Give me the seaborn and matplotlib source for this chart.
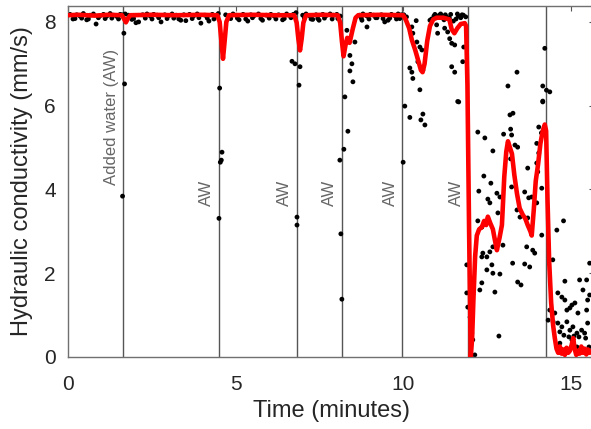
import matplotlib
matplotlib.use("Agg")
import matplotlib.pyplot as plt
import seaborn as sns
import numpy as np

# ---------------- data ----------------
# measured points (black dots)
dots_t = [
    # steady band 0-10 min
    0.05, 0.14, 0.25, 0.35, 0.45, 0.55, 0.65, 0.75, 0.83, 0.95, 1.05, 1.15, 1.25, 1.35, 1.45,
    1.55, 1.62, 1.70, 1.80, 1.90, 2.02, 2.10, 2.22, 2.35, 2.45, 2.55, 2.65, 2.77, 2.88, 3.00,
    3.10, 3.22, 3.36, 3.45, 3.51, 3.62, 3.75, 3.85, 3.96, 4.08, 4.20, 4.30, 4.40, 4.48, 4.70,
    4.80, 4.92, 5.02, 5.10, 5.22, 5.36, 5.45, 5.55, 5.68, 5.80, 5.92, 6.05, 6.15, 6.28, 6.40,
    6.52, 6.62, 6.72, 6.80, 7.00, 7.10, 7.20, 7.30, 7.40, 7.49, 7.60, 7.70, 7.82, 7.92, 8.02,
    8.12, 8.70, 8.80, 8.92, 9.02, 9.12, 9.22, 9.35, 9.45, 9.55, 9.65, 9.75, 9.85, 9.95,
    # fringe of the steady band
    0.20, 0.40, 0.60, 0.90, 1.10, 1.30, 1.50, 1.95, 2.30, 2.50, 2.70, 2.95, 3.15, 3.30, 3.70,
    3.90, 4.15, 4.35, 4.85, 5.05, 5.30, 5.50, 5.75, 6.00, 6.20, 6.45, 6.65, 7.05, 7.25, 7.45,
    7.65, 7.88, 8.05, 8.75, 8.98, 9.18, 9.40, 9.60, 9.80, 9.90,
    # water additions 1-4
    1.66, 1.68, 1.62,
    4.52, 4.59, 4.54, 4.57, 4.50,
    6.68, 6.77, 6.92, 6.89, 6.83, 6.83,
    8.35, 8.23, 8.11, 8.14, 8.17, 8.26, 8.41, 8.50, 8.47, 8.41, 8.32, 8.56, 8.92, 8.77,
    # 10-12 min
    10.00, 10.05, 10.20, 10.50, 10.59, 10.53, 10.65, 10.20, 10.26, 10.29, 10.44, 10.59, 10.41,
    10.50, 10.56, 10.29, 10.26, 10.80, 11.00, 11.03, 11.24, 11.33, 11.39, 11.45, 11.54, 11.45,
    11.54, 11.63, 11.78, 11.81, 11.66, 10.39,
    10.02, 10.10, 10.85, 10.92, 11.00, 11.08, 11.15, 11.22, 11.30, 11.38, 11.50, 11.58, 11.65,
    11.72, 11.80, 11.87, 10.95, 11.12, 11.26, 11.42, 11.62, 11.76,
    # 12-14.3 min
    14.17, 13.19, 13.28, 12.23, 12.44, 13.00, 13.21, 13.24, 12.68, 13.34, 13.42, 14.05, 14.13,
    13.99, 14.05, 13.21, 13.72, 13.99, 14.02, 12.41, 14.14, 13.24, 13.63, 13.75, 12.26, 12.62,
    12.80, 12.53, 12.59, 12.83, 12.23, 13.84, 13.99, 13.40, 13.49, 13.72, 13.78, 14.14, 12.98,
    12.68, 13.69, 13.87, 13.93, 12.38, 12.50, 12.59, 13.27, 13.63, 13.78, 12.50, 12.68, 12.89,
    13.42, 13.52, 12.35, 12.29, 12.74, 11.90, 11.90, 11.93, 12.00, 12.05, 12.08, 12.14, 12.86,
    13.40, 13.13, 14.17, 14.28, 14.38, 14.17, 14.23, 12.89, 12.35, 12.35, 12.65,
    # after 14.3 min
    14.59, 14.79, 14.47, 14.83, 15.27, 15.48, 15.57, 14.38, 14.53, 14.62, 14.74, 14.83, 14.89,
    15.04, 15.13, 15.22, 15.37, 15.48, 15.51, 14.33, 14.48, 14.62, 14.74, 14.89, 14.98, 15.07,
    15.19, 15.33, 15.42, 15.51, 15.04, 15.19, 14.98, 15.57, 14.68, 14.80, 14.95, 15.10, 15.25,
    15.45, 14.68, 15.55,
]
dots_k = [
    8.18, 8.07, 8.17, 8.14, 8.20, 8.05, 8.16, 8.19, 7.95, 8.15, 8.18, 8.14, 8.20, 8.16, 8.13,
    8.18, 8.17, 8.19, 8.16, 8.06, 7.98, 8.00, 8.17, 8.19, 8.14, 8.18, 8.16, 8.00, 8.17, 8.15,
    8.19, 8.16, 8.04, 8.17, 8.03, 8.18, 8.15, 8.19, 7.97, 8.16, 8.02, 8.18, 8.15, 8.20, 8.17,
    8.14, 8.19, 8.16, 8.05, 8.18, 8.02, 8.17, 8.15, 8.19, 8.04, 8.16, 8.18, 8.14, 8.17, 8.05,
    8.19, 8.15, 8.18, 8.22, 8.16, 8.19, 8.15, 8.06, 8.17, 8.04, 8.18, 8.15, 8.19, 8.16, 8.18,
    8.14, 8.16, 8.19, 8.14, 8.18, 8.16, 8.10, 8.17, 8.00, 8.04, 8.18, 8.15, 8.19, 8.17,
    8.08, 8.09, 8.07, 8.10, 8.08, 8.09, 8.07, 8.08, 8.09, 8.07, 8.10, 8.08, 8.09, 8.07, 8.08,
    8.10, 8.09, 8.07, 8.08, 8.09, 8.07, 8.10, 8.08, 8.09, 8.07, 8.08, 8.10, 8.09, 8.07, 8.08,
    8.09, 8.07, 8.08, 8.09, 8.07, 8.10, 8.08, 8.09, 8.07, 8.08,
    7.73, 6.52, 3.84,
    6.42, 4.89, 4.65, 4.70, 3.31,
    7.06, 7.00, 6.93, 6.49, 3.34, 3.15,
    5.39, 4.96, 4.70, 2.94, 1.38, 6.21, 6.83, 6.57, 7.00, 7.20, 7.80, 7.52, 7.88, 8.04,
    4.65, 5.99, 5.72, 6.38, 5.80, 5.66, 5.54, 6.90, 6.80, 6.65, 7.05, 6.85, 7.52,
    7.40, 7.33, 7.73, 7.88, 8.04, 7.93, 7.73, 7.85, 7.76, 7.60, 7.49, 7.45, 6.93,
    6.80, 6.10, 7.05, 7.40, 6.09, 8.03,
    8.17, 8.12, 8.07, 8.14, 8.10, 8.16, 8.12, 8.05, 8.12, 8.09, 8.02, 8.07, 8.14,
    8.10, 8.16, 8.12, 8.18, 8.19, 8.17, 8.18, 8.19, 8.17,
    6.09, 5.78, 5.82, 5.37, 5.23, 5.32, 5.44, 5.30, 4.92, 5.06, 5.01, 5.49, 5.35,
    5.10, 4.87, 4.73, 4.51, 4.63, 4.42, 4.32, 4.03, 4.06, 3.94, 3.80, 3.96, 4.15,
    3.91, 3.77, 3.68, 3.44, 3.25, 3.82, 3.68, 3.51, 3.34, 3.32, 3.10, 2.91, 2.67,
    2.63, 2.63, 2.55, 2.48, 2.48, 2.39, 2.51, 2.24, 2.22, 2.15, 2.08, 2.00, 1.98,
    1.79, 1.72, 1.77, 1.60, 1.55, 2.20, 1.53, 1.19, 0.95, 0.57, 0.41, 0.05, 0.50,
    6.80, 6.47, 6.47, 6.37, 6.33, 6.11, 7.37, 3.82, 3.10, 2.39, 2.20,
    3.03, 3.25, 2.32, 1.81, 1.84, 1.84, 2.24, 1.12, 1.05, 1.53, 1.43, 1.36, 1.12,
    1.24, 1.29, 1.05, 1.60, 1.12, 1.36, 0.88, 0.84, 0.81, 0.72, 0.84, 0.64, 0.72,
    0.57, 0.64, 0.57, 0.81, 0.41, 0.24, 1.17, 1.48, 0.60, 0.52, 0.48, 0.50, 0.48,
    0.45, 0.33, 0.24,
]

# smoothed conductivity (red curve)
smooth_t = [
    0.00, 0.30, 0.80, 1.20, 1.60, 1.66, 1.72, 1.78, 1.85, 2.50, 3.20, 4.00, 4.45, 4.52, 4.57,
    4.62, 4.67, 4.72, 4.80, 5.50, 6.20, 6.75, 6.82, 6.87, 6.92, 6.97, 7.02, 7.10, 7.60, 8.05,
    8.12, 8.17, 8.22, 8.28, 8.33, 8.40, 8.50, 8.58, 8.66, 9.30, 10.00, 10.08, 10.18, 10.26,
    10.36, 10.46, 10.53, 10.58, 10.64, 10.72, 10.80, 10.90, 11.00, 11.20, 11.38, 11.45, 11.53,
    11.62, 11.72, 11.84, 11.88, 11.92, 11.97, 12.02, 12.06, 12.10, 12.15, 12.20, 12.27, 12.35,
    12.42, 12.48, 12.53, 12.60, 12.68, 12.75, 12.80, 12.88, 12.95, 13.02, 13.08, 13.13, 13.19,
    13.25, 13.32, 13.40, 13.48, 13.57, 13.65, 13.72, 13.80, 13.84, 13.90, 13.96, 14.03, 14.10,
    14.17, 14.23, 14.27, 14.31, 14.36, 14.42, 14.48, 14.53, 14.58, 14.63, 14.68, 14.73, 14.78,
    14.83, 14.88, 14.93, 14.98, 15.03, 15.08, 15.12, 15.17, 15.22, 15.27, 15.32, 15.37, 15.42,
    15.47, 15.52, 15.57, 15.65,
]
smooth_k = [
    8.16, 8.17, 8.15, 8.17, 8.16, 8.08, 7.99, 8.08, 8.16, 8.17, 8.16, 8.17, 8.16, 8.00, 7.55,
    7.12, 7.55, 8.00, 8.16, 8.17, 8.16, 8.16, 7.98, 7.60, 7.32, 7.60, 7.98, 8.16, 8.17, 8.16,
    7.98, 7.55, 7.18, 7.45, 7.62, 7.50, 7.85, 8.10, 8.16, 8.17, 8.16, 8.05, 7.85, 7.57,
    7.33, 7.05, 6.85, 6.80, 7.00, 7.55, 7.90, 8.06, 8.10, 8.10, 8.06, 7.82, 7.73,
    7.85, 7.95, 7.97, 7.90, 6.50, 3.00, 0.00, 0.45, 1.40, 2.40, 2.90, 3.05, 3.10,
    3.25, 3.15, 3.35, 3.20, 3.05, 2.75, 2.55, 2.85, 3.15, 4.30, 4.90, 5.15, 5.00,
    4.85, 4.35, 3.90, 3.55, 3.40, 3.30, 3.15, 3.00, 2.90, 3.50, 4.20, 4.60, 5.10,
    5.40, 5.55, 5.40, 3.80, 2.30, 1.30, 0.75, 0.45, 0.20, 0.10, 0.25, 0.08, 0.18,
    0.05, 0.22, 0.10, 0.15, 0.28, 0.45, 0.20, 0.05, 0.15, 0.08, 0.25, 0.10, 0.20,
    0.06, 0.18, 0.10, 0.15,
]

# water additions
aw_times = [1.64, 4.50, 6.83, 8.17, 9.98, 11.94, 14.28]
aw_labels = ["Added water (AW)", "AW", "AW", "AW", "AW", "AW", ""]
aw_label_y = [4.1, 3.6, 3.6, 3.6, 3.6, 3.6, 3.6]

x_ticks = [0, 5, 10, 15]
y_ticks = [0, 2, 4, 6, 8]

# ---------------- plot ----------------
sns.set_style("white")
plt.rcParams["font.family"] = ["Liberation Sans", "DejaVu Sans"]

W, H = 591, 429
fig = plt.figure(figsize=(W / 100, H / 100), dpi=100)
left, right, top, bottom = 68.3, 594.0, 6.0, 357.0
ax = fig.add_axes([left / W, (H - bottom) / H, (right - left) / W, (bottom - top) / H])

for t in aw_times:
    ax.axvline(t, color="#555555", lw=1.0, zorder=1)

sns.scatterplot(x=dots_t, y=dots_k, ax=ax, color="black", s=12, linewidth=0,
                edgecolor="none", zorder=2, legend=False)
sns.lineplot(x=smooth_t, y=smooth_k, ax=ax, color="red", lw=3.3, sort=False,
             estimator=None, zorder=3, legend=False)

for t, lab, yy in zip(aw_times, aw_labels, aw_label_y):
    if lab:
        ax.annotate(lab, xy=(t, yy), xytext=(-3.3, 0), textcoords="offset points",
                    rotation=90, ha="right", va="bottom", fontsize=12, color="#666666")

ax.set_xlim(0, 15.7)
ax.set_ylim(0, 8.38)
ax.set_xticks(x_ticks)
ax.set_yticks(y_ticks)
ax.tick_params(axis="both", direction="in", length=3.5, width=0.8, color="#555555",
               labelsize=15, labelcolor="#262626", top=True, right=True)
ax.tick_params(axis="x", pad=13.0)
ax.tick_params(axis="y", pad=9.0)

for s in ax.spines.values():
    s.set_color("#707070")
    s.set_linewidth(1.0)

ax.set_xlabel("Time (minutes)", fontsize=17, color="#262626")
ax.set_ylabel("Hydraulic conductivity (mm/s)", fontsize=17, color="#262626")
ax.xaxis.set_label_coords(0.5, -0.122)
ax.yaxis.set_label_coords(-0.067, 0.5)

fig.savefig("out.png", dpi=100)
